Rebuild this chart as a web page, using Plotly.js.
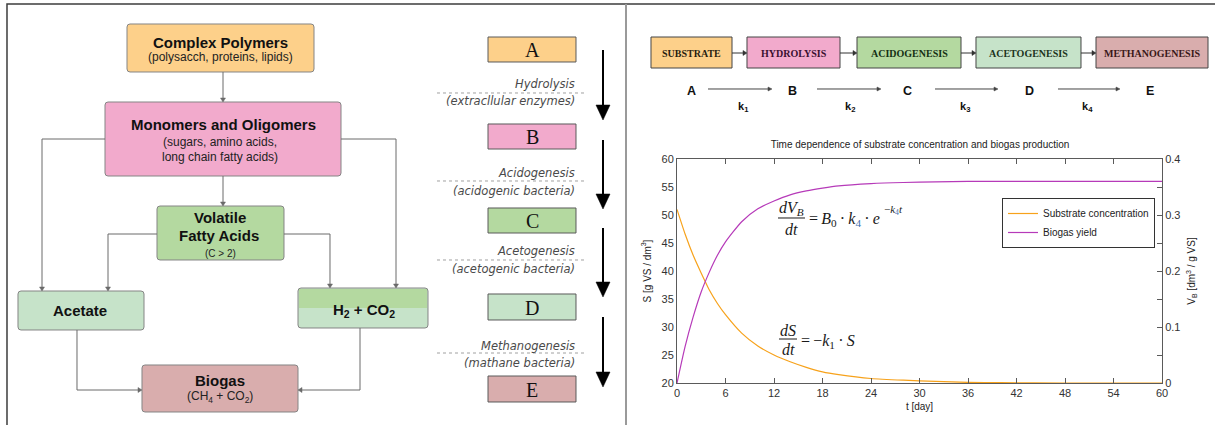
<!DOCTYPE html>
<html>
<head>
<meta charset="utf-8">
<script src="https://cdn.plot.ly/plotly-3.0.1.min.js"></script>
<style>
  html, body { margin: 0; padding: 0; background: #fff; }
  #chart { width: 1215px; height: 425px; }
</style>
</head>
<body>
<div id="chart"></div>
<script>
// ---- Series: substrate concentration and cumulative biogas yield over time ----
const days = [0, 1, 2, 3, 4, 5, 6, 8, 10, 12, 14, 16, 18, 20, 24, 28, 32, 36, 40, 48, 60];
const substrate = [51, 46.6, 42.8, 39.6, 36.6, 34.2, 32.2, 28.9, 26.6, 25, 23.8, 22.8, 22, 21.5, 20.8, 20.5, 20.3, 20.1, 20.05, 20, 20];
const biogasYield = [0, 0.065, 0.118, 0.163, 0.198, 0.228, 0.252, 0.288, 0.311, 0.325, 0.336, 0.343, 0.348, 0.352, 0.356, 0.358, 0.359, 0.36, 0.36, 0.36, 0.36];

const seriesNames = ['Substrate concentration', 'Biogas yield'];
const dayTicks = [0, 6, 12, 18, 24, 30, 36, 42, 48, 54, 60];
const yieldTicks = [0, 0.05, 0.1, 0.15, 0.2, 0.25, 0.3, 0.35, 0.4];
const yieldTickText = ['0', '', '0.1', '', '0.2', '', '0.3', '', '0.4'];

// ---- Labels of the process diagrams ----
const stageLetters = ['A', 'B', 'C', 'D', 'E'];
const stepNames = ['Hydrolysis', 'Acidogenesis', 'Acetogenesis', 'Methanogenesis'];
const stepAgents = ['(extracllular enzymes)', '(acidogenic bacteria)', '(acetogenic bacteria)', '(mathane bacteria)'];
const chainNames = ['SUBSTRATE', 'HYDROLYSIS', 'ACIDOGENESIS', 'ACETOGENESIS', 'METHANOGENESIS'];
const rateNames = ['k<sub>1</sub>', 'k<sub>2</sub>', 'k<sub>3</sub>', 'k<sub>4</sub>'];

// ---- Palette ----
const C_ORANGE = '#fdd08a', C_PINK = '#f2aacc', C_GREEN = '#b4d9a0', C_LGREEN = '#c6e3c9', C_ROSE = '#d9adad';
const stageColors = [C_ORANGE, C_PINK, C_GREEN, C_LGREEN, C_ROSE];

const W = 1215, H = 425;
const X = px => px / W;
const Y = py => 1 - py / H;
const P = (x, y) => X(x).toFixed(5) + ',' + Y(y).toFixed(5);

const SANS = 'Liberation Sans, Arial, sans-serif';
const SERIF = 'Liberation Serif, Times New Roman, serif';
const VERD = 'DejaVu Sans, Verdana, sans-serif';

const shapes = [];
const annotations = [];

function pathShape(d, fill, lineColor, lineWidth, dash) {
  shapes.push({
    type: 'path', xref: 'paper', yref: 'paper', path: d,
    fillcolor: fill || 'rgba(0,0,0,0)',
    line: { color: lineColor || 'rgba(0,0,0,0)', width: lineWidth === undefined ? 1 : lineWidth, dash: dash || 'solid' }
  });
}
function rect(x0, y0, x1, y1, fill, lineColor, lw) {
  pathShape('M' + P(x0, y0) + ' L' + P(x1, y0) + ' L' + P(x1, y1) + ' L' + P(x0, y1) + ' Z', fill, lineColor, lw);
}
function rrect(x0, y0, x1, y1, r, fill, lineColor, lw) {
  const d = 'M' + P(x0 + r, y0) + ' L' + P(x1 - r, y0) + ' Q' + P(x1, y0) + ' ' + P(x1, y0 + r) +
    ' L' + P(x1, y1 - r) + ' Q' + P(x1, y1) + ' ' + P(x1 - r, y1) +
    ' L' + P(x0 + r, y1) + ' Q' + P(x0, y1) + ' ' + P(x0, y1 - r) +
    ' L' + P(x0, y0 + r) + ' Q' + P(x0, y0) + ' ' + P(x0 + r, y0) + ' Z';
  pathShape(d, fill, lineColor, lw);
}
function polyline(pts, color, lw, dash) {
  pathShape('M' + pts.map(p => P(p[0], p[1])).join(' L'), null, color, lw, dash);
}
// polyline ending in a small filled arrow head
function arrowLine(pts, color, lw, headLen, headHalf) {
  const n = pts.length;
  const [xa, ya] = pts[n - 2], [xb, yb] = pts[n - 1];
  const len = Math.hypot(xb - xa, yb - ya);
  const ux = (xb - xa) / len, uy = (yb - ya) / len;
  const bx = xb - ux * headLen, by = yb - uy * headLen;
  const line = pts.slice(0, n - 1).concat([[bx, by]]);
  polyline(line, color, lw);
  const d = 'M' + P(xb, yb) + ' L' + P(bx - uy * headHalf, by + ux * headHalf) + ' L' + P(bx + uy * headHalf, by - ux * headHalf) + ' Z';
  pathShape(d, color, color, 0.5);
}
function text(x, y, t, size, family, color, xanchor) {
  annotations.push({
    xref: 'paper', yref: 'paper', x: X(x), y: Y(y), text: t, showarrow: false,
    xanchor: xanchor || 'center', yanchor: 'middle',
    font: { size: size, family: family || SANS, color: color || '#111' }
  });
}

// ---- Frame ----
polyline([[7, 425], [7, 4], [1215, 4]], '#3c3c3c', 1.5);
polyline([[626, 4], [626, 425]], '#9a9a9a', 2);

// ---- Left: degradation pathway ----
const EDGE = '#858585', LINK = '#6a6a6a';
rrect(127, 24, 314, 72, 3, C_ORANGE, EDGE, 1);
rrect(105, 102, 341, 176, 3, C_PINK, EDGE, 1);
rrect(157, 206, 284, 260, 3, C_GREEN, EDGE, 1);
rrect(18, 291, 144, 330, 3, C_LGREEN, EDGE, 1);
rrect(298, 288, 428, 328, 3, C_LGREEN, null, 0);
rect(299, 289, 427, 308, C_GREEN, null, 0);
rrect(298, 288, 428, 328, 3, null, EDGE, 1);
rrect(142, 365, 298, 412, 3, C_ROSE, EDGE, 1);

arrowLine([[223, 72], [223, 102]], LINK, 1, 4, 2.5);
arrowLine([[223, 176], [223, 206]], LINK, 1, 4, 2.5);
arrowLine([[105, 139], [42, 139], [42, 291]], LINK, 1, 4, 2.5);
arrowLine([[341, 139], [396, 139], [396, 288]], LINK, 1, 4, 2.5);
arrowLine([[157, 234], [108, 234], [108, 291]], LINK, 1, 4, 2.5);
arrowLine([[284, 234], [330, 234], [330, 288]], LINK, 1, 4, 2.5);
arrowLine([[77, 330], [77, 390], [142, 390]], LINK, 1, 4, 2.5);
arrowLine([[360, 328], [360, 390], [298, 390]], LINK, 1, 4, 2.5);

text(220, 42, '<b>Complex Polymers</b>', 15);
text(220, 57, '(polysacch, proteins, lipids)', 12, SANS, '#222');
text(223, 124, '<b>Monomers and Oligomers</b>', 15);
text(220, 142, '(sugars, amino acids,', 12, SANS, '#222');
text(220, 157, 'long chain fatty acids)', 12, SANS, '#222');
text(220, 217, '<b>Volatile</b>', 15);
text(219, 235, '<b>Fatty Acids</b>', 15);
text(220, 253, '(C > 2)', 10, SANS, '#222');
text(80, 310, '<b>Acetate</b>', 15);
text(364, 310, '<b>H<sub>2</sub> + CO<sub>2</sub></b>', 15);
text(220, 380, '<b>Biogas</b>', 15);
text(220, 397, '(CH<sub>4</sub> + CO<sub>2</sub>)', 12, SANS, '#222');

// ---- Middle: stage ladder ----
const ladderBoxes = [[37, 62], [124, 149], [208, 233], [294, 320], [376, 402]];
ladderBoxes.forEach((b, i) => {
  rect(488, b[0], 576, b[1], stageColors[i], '#5a5a5a', 1);
  text(532, (b[0] + b[1]) / 2 + 1, stageLetters[i], 20, SERIF, '#111');
});
const ladderRows = [[84, 93, 101], [173, 181, 191], [251, 260, 269], [346, 353, 363]];
ladderRows.forEach((r, i) => {
  text(577, r[0], '<i>' + stepNames[i] + '</i>', 11.5, VERD, '#4a4a4a', 'right');
  polyline([[437, r[1]], [587, r[1]]], '#a0a0a0', 1, 'dot');
  text(577, r[2], '<i>' + stepAgents[i] + '</i>', 11.5, VERD, '#4a4a4a', 'right');
});
const ladderArrows = [[50, 120], [140, 209], [228, 297], [317, 387]];
ladderArrows.forEach(a => arrowLine([[603, a[0]], [603, a[1]]], '#000', 2, 15, 7));

// ---- Right top: reaction chain ----
const chainBoxes = [[651, 732], [747, 840], [857, 961], [976, 1081], [1096, 1208]];
const chainInk = ['#2a1e10', '#3a1030', '#143014', '#1c3420', '#3a1818'];
chainBoxes.forEach((b, i) => {
  rect(b[0], 37, b[1], 68, stageColors[i], '#454545', 1);
  text((b[0] + b[1]) / 2, 53, '<b>' + chainNames[i] + '</b>', 10, SERIF, chainInk[i]);
  if (i < chainBoxes.length - 1) arrowLine([[b[1], 53], [chainBoxes[i + 1][0], 53]], '#333', 1, 4, 2.5);
});
const letterX = [691, 792, 907, 1029, 1150];
letterX.forEach((x, i) => text(x, 91, '<b>' + stageLetters[i] + '</b>', 12.5, SANS, '#111'));
const rateArrows = [[708, 772], [817, 881], [935, 998], [1058, 1120]];
const rateX = [743, 850, 965, 1087];
rateArrows.forEach((a, i) => {
  arrowLine([[a[0], 89], [a[1], 89]], '#444', 1, 4, 2);
  text(rateX[i], 107, '<b>' + rateNames[i] + '</b>', 11, SANS, '#111');
});

// ---- Rate equations drawn inside the plot ----
const EQ = '#1a1a1a', SUBC = '#3d6fb0', TS = '\u2009';
text(791, 208, '<i>dV</i><sub><i>B</i></sub>', 16, SERIF, EQ);
polyline([[778, 218], [805, 218]], EQ, 1);
text(791, 230, '<i>dt</i>', 16, SERIF, EQ);
text(807, 219, '=' + TS + '<i>B</i><sub>0</sub>' + TS + '·' + TS + '<i>k</i><sub><span style="color:' + SUBC + '">4</span></sub>' + TS + '·' + TS + '<i>e</i>', 16, SERIF, EQ, 'left');
text(882, 210, '−<i>k</i><sub><span style="color:' + SUBC + '">4</span></sub><i>t</i>', 11, SERIF, EQ, 'left');

text(788, 330, '<i>dS</i>', 16, SERIF, EQ);
polyline([[779, 339], [797, 339]], EQ, 1);
text(788, 349, '<i>dt</i>', 16, SERIF, EQ);
text(799, 341, '=' + TS + '−<i>k</i><sub>1</sub>' + TS + '·' + TS + '<i>S</i>', 16, SERIF, EQ, 'left');

// ---- Traces ----
const traces = [
  {
    x: days, y: substrate, name: seriesNames[0], type: 'scatter', mode: 'lines',
    line: { color: '#f7a21b', width: 1.2, shape: 'spline', smoothing: 0.6 }
  },
  {
    x: days, y: biogasYield, name: seriesNames[1], type: 'scatter', mode: 'lines', yaxis: 'y2',
    line: { color: '#b63ab9', width: 1.2, shape: 'spline', smoothing: 0.6 }
  }
];

const AX = '#5a5a5a', TICKF = { size: 11, family: SANS, color: '#333' };
const layout = {
  width: W, height: H,
  margin: { l: 0, r: 0, t: 0, b: 0 },
  paper_bgcolor: '#fff', plot_bgcolor: '#fff',
  showlegend: true,
  title: {
    text: 'Time dependence of substrate concentration and biogas production',
    x: X(920), y: Y(144), xanchor: 'center', yanchor: 'middle', xref: 'paper', yref: 'paper',
    font: { size: 10, family: SANS, color: '#222' }
  },
  xaxis: {
    domain: [X(677), X(1162)], range: [0, 60], tickvals: dayTicks,
    ticks: 'inside', ticklen: 5, tickcolor: AX, showline: true, linecolor: AX, linewidth: 1,
    mirror: 'ticks', showgrid: false, zeroline: false, tickfont: TICKF,
    title: { text: 't [day]', font: { size: 10, family: SANS, color: '#222' }, standoff: 4 }
  },
  yaxis: {
    domain: [Y(383), Y(159)], range: [20, 60], dtick: 5,
    ticks: '', showline: true, linecolor: AX, linewidth: 1, mirror: true,
    showgrid: false, zeroline: false, tickfont: TICKF,
    title: { text: 'S [g VS / dm<sup>3</sup>]', font: { size: 10, family: SANS, color: '#222' }, standoff: 8 }
  },
  yaxis2: {
    overlaying: 'y', side: 'right', range: [0, 0.4],
    tickvals: yieldTicks, ticktext: yieldTickText,
    ticks: 'inside', ticklen: 5, tickcolor: AX, showline: true, linecolor: AX, linewidth: 1,
    showgrid: false, zeroline: false, tickfont: TICKF,
    title: { text: 'V<sub>B</sub> [dm<sup>3</sup> / g VS]', font: { size: 10, family: SANS, color: '#222' }, standoff: 8 }
  },
  legend: {
    x: X(1002), y: Y(198), xanchor: 'left', yanchor: 'top',
    bgcolor: '#fff', bordercolor: '#333', borderwidth: 1,
    font: { size: 10, family: SANS, color: '#222' },
    itemwidth: 30, tracegroupgap: 0
  },
  shapes: shapes,
  annotations: annotations
};

Plotly.newPlot('chart', traces, layout, { staticPlot: true, displayModeBar: false });
</script>
</body>
</html>
